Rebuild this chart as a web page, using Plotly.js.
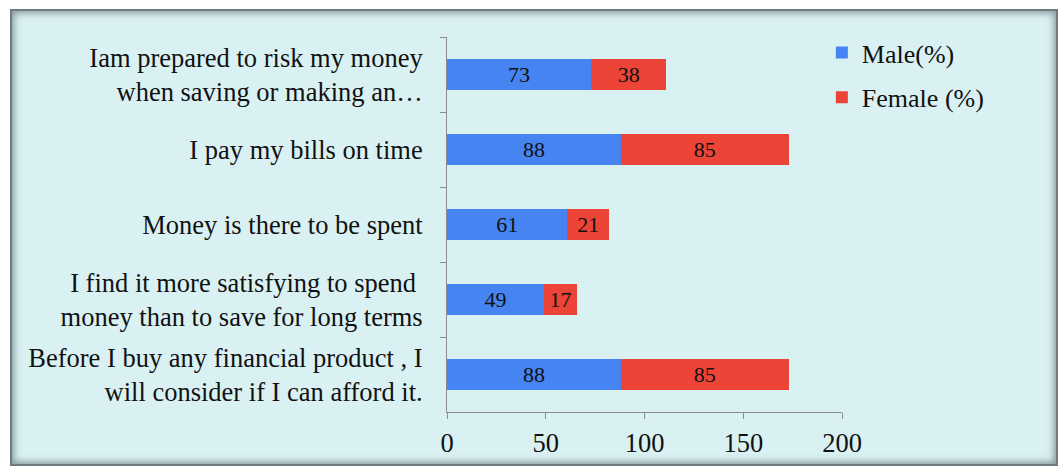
<!DOCTYPE html>
<html>
<head>
<meta charset="utf-8">
<script src="https://cdn.plot.ly/plotly-3.0.1.min.js"></script>
<style>
  html, body { margin: 0; padding: 0; background: #ffffff; }
  #wrap { position: relative; width: 1062px; height: 470px; overflow: hidden; }
  #frame { position: absolute; left: 10px; top: 9px; width: 1044px; height: 453px;
           background: #daf1f3; border: 2px solid #6f7b7e;
           box-shadow: inset 0 0 7px 2px rgba(60,75,80,0.55); }
  #chart { position: absolute; left: 0; top: 0; width: 1062px; height: 470px; }
</style>
</head>
<body>
<div id="wrap">
  <div id="frame"></div>
  <div id="chart"></div>
</div>
<script>
const categories = [
  "Iam prepared to risk my money<br>when saving or making an…",
  "I pay my bills on time",
  "Money is there to be spent",
  "I find it more satisfying to spend <br>money than to save for long terms",
  "Before I buy any financial product , I<br>will consider if I can afford it."
];
const maleValues = [73, 88, 61, 49, 88];
const femaleValues = [38, 85, 21, 17, 85];
const seriesNames = ["Male(%)", "Female (%)"];
const xTicks = [0, 50, 100, 150, 200];

const serif = "'Liberation Serif', 'Times New Roman', serif";

const traces = [
  {
    type: 'bar', orientation: 'h', name: seriesNames[0], legendgroup: 'm',
    y: categories, x: maleValues,
    marker: { color: '#4584f1' },
    text: maleValues.map(String), textposition: 'inside', insidetextanchor: 'middle',
    textangle: 0, constraintext: 'none',
    textfont: { family: serif, size: 22, color: '#111' }, hoverinfo: 'skip'
  },
  {
    type: 'bar', orientation: 'h', name: seriesNames[1], legendgroup: 'f',
    y: categories, x: femaleValues,
    marker: { color: '#ec4436' },
    text: femaleValues.map(String), textposition: 'inside', insidetextanchor: 'middle',
    textangle: 0, constraintext: 'none',
    textfont: { family: serif, size: 22, color: '#111' }, hoverinfo: 'skip'
  }
];

const layout = {
  width: 1062, height: 470,
  margin: { l: 447, r: 220, t: 37, b: 58 },
  paper_bgcolor: 'rgba(0,0,0,0)',
  plot_bgcolor: 'rgba(0,0,0,0)',
  barmode: 'stack',
  bargap: 0.587,
  uniformtext: { mode: false },
  font: { family: serif, size: 26.5, color: '#111' },
  showlegend: true,
  legend: {
    x: 0.949, xanchor: 'left', y: 1.021, yanchor: 'top',
    traceorder: 'grouped', tracegroupgap: 8,
    font: { family: serif, size: 26, color: '#111' },
    bgcolor: 'rgba(0,0,0,0)'
  },
  xaxis: {
    range: [0, 200], tickvals: xTicks, ticktext: xTicks.map(String),
    showgrid: false, zeroline: false,
    showline: true, linecolor: '#8c8c8c', linewidth: 1,
    ticks: 'outside', ticklen: 6, tickcolor: '#8c8c8c',
    ticklabelstandoff: 1,
    tickfont: { family: serif, size: 26.5, color: '#111' },
    fixedrange: true
  },
  yaxis: {
    type: 'category', autorange: 'reversed',
    showgrid: false, zeroline: false,
    showline: true, linecolor: '#8c8c8c', linewidth: 1,
    ticks: 'outside', ticklen: 6, tickcolor: '#8c8c8c', tickson: 'boundaries',
    ticklabelstandoff: 18,
    tickfont: { family: serif, size: 26.5, color: '#111' },
    fixedrange: true
  }
};

Plotly.newPlot('chart', traces, layout, { displayModeBar: false, staticPlot: true });
</script>
</body>
</html>
